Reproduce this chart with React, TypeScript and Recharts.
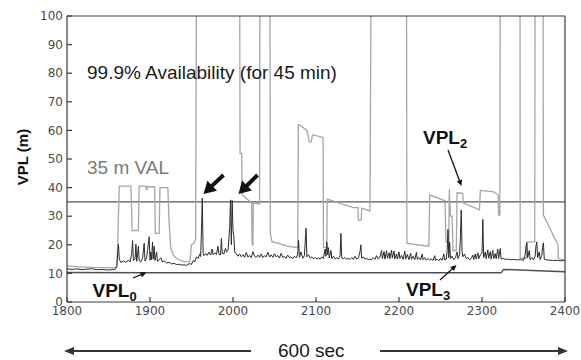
import { LineChart, Line, XAxis, YAxis, ReferenceLine } from 'recharts';

const xTicks = [1800, 1900, 2000, 2100, 2200, 2300, 2400];
const yTicks = [0, 10, 20, 30, 40, 50, 60, 70, 80, 90, 100];
const valLimit = 35;

// VPL0 (bottom bound)
const vpl0Time = [1800, 1900, 2000, 2100, 2200, 2323, 2326, 2360, 2400];
const vpl0Value = [10.3, 10.2, 10.2, 10.2, 10.2, 10.2, 11.4, 11.0, 10.6];

// VPL2 (grey, goes off the top of the plot)
const vpl2Time = [
  1800, 1815, 1830, 1845, 1860, 1861, 1863, 1877, 1878.5, 1886, 1887, 1895, 1896, 1897,
  1905.5, 1906.5, 1911, 1912, 1921.5, 1923, 1925, 1928, 1932, 1936, 1940, 1946, 1948, 1950,
  1953, 1955, 1956, 2008, 2008.5, 2010.5, 2011, 2022.5, 2023, 2024, 2024.5, 2032, 2032.5,
  2044.5, 2045, 2047, 2055, 2065, 2078, 2078.7, 2080, 2089, 2092, 2094, 2096, 2108.5, 2109,
  2113, 2113.5, 2145, 2150.5, 2151, 2154.5, 2155, 2165, 2166.5, 2209, 2209.5, 2236, 2237,
  2255.5, 2256.5, 2260, 2260.6, 2262, 2264, 2265, 2269, 2270, 2276.7, 2277.5, 2297, 2298,
  2314, 2319.6, 2320, 2321.5, 2322, 2345.8, 2346, 2353.5, 2354, 2363.5, 2364, 2373.5, 2374,
  2391.5, 2392, 2400,
];
const vpl2Value = [
  12.6, 12.3, 12.1, 12.0, 12.0, 20, 40.5, 40.5, 25, 25, 40.5, 40.5, 39, 40.3,
  40.3, 24, 24, 40, 40, 28, 19, 16.5, 15.2, 14.6, 14.2, 14.0, 14.2, 20,
  20.5, 22, 120, 120, 52, 52, 37.5, 34.6, 20, 20, 34.6, 34.3, 120,
  120, 24, 21, 20.5, 19.5, 19, 62, 62, 60, 56, 56, 58.5, 57.5, 19,
  19, 36, 33, 33, 28.6, 28.6, 32.8, 31.8, 120, 120, 20.5, 19.5, 37.4,
  35.4, 21, 21, 39.4, 30, 30, 18, 18, 38.2, 38, 34.6, 32.2, 39,
  38.5, 37.5, 30.4, 30.4, 120, 120, 15.3, 15.3, 21, 21, 120, 120, 30.4,
  19.9, 15.2, 14.6,
];

// VPL3 (dark, noisy)
const vpl3Time = [
  1800, 1806, 1812, 1818, 1824, 1830, 1836, 1842, 1848, 1854, 1858, 1860, 1862, 1863, 1865,
  1868, 1871, 1874, 1876, 1878, 1879, 1880, 1882, 1883, 1884, 1886, 1887, 1889, 1891, 1893,
  1894, 1896, 1897, 1899, 1900, 1901, 1902, 1903, 1904, 1905, 1906, 1908, 1909, 1911, 1913,
  1915, 1917, 1920, 1923, 1926, 1929, 1932, 1935, 1938, 1941, 1944, 1947, 1950, 1952, 1954,
  1956, 1958, 1960, 1961, 1962, 1963, 1964, 1965, 1967, 1969, 1971, 1973, 1975, 1976, 1978,
  1980, 1982, 1983, 1985, 1986, 1987, 1989, 1991, 1992, 1994, 1996, 1997, 1998, 1999, 2000,
  2001, 2002, 2004, 2006, 2008, 2010, 2012, 2014, 2016, 2018, 2020, 2022, 2024, 2026, 2028,
  2030, 2032, 2034, 2036, 2038, 2040, 2042, 2044, 2046, 2048, 2050, 2052, 2054, 2056, 2058,
  2060, 2062, 2064, 2066, 2068, 2070, 2072, 2074, 2076, 2078, 2079, 2080, 2082, 2084, 2086,
  2088, 2089, 2091, 2093, 2095, 2097, 2099, 2101, 2103, 2105, 2107, 2109, 2111, 2112, 2113,
  2114, 2115, 2116, 2118, 2119, 2121, 2123, 2125, 2127, 2129, 2130, 2131, 2133, 2135, 2137,
  2139, 2141, 2143, 2145, 2147, 2149, 2151, 2153, 2154, 2155, 2157, 2159, 2161, 2163, 2165,
  2167, 2169, 2171, 2173, 2175, 2177, 2179, 2180, 2182, 2183, 2185, 2186, 2188, 2189, 2191,
  2192, 2194, 2195, 2197, 2198, 2200, 2201, 2203, 2205, 2207, 2208, 2210, 2212, 2214, 2215,
  2217, 2219, 2221, 2222, 2224, 2226, 2228, 2229, 2231, 2233, 2235, 2237, 2239, 2241, 2243,
  2244, 2246, 2248, 2250, 2252, 2254, 2255, 2257, 2258, 2259, 2260, 2261, 2262, 2264, 2266,
  2268, 2270, 2271, 2273, 2274, 2275, 2276, 2277, 2279, 2281, 2283, 2285, 2287, 2289, 2290,
  2292, 2293, 2295, 2296, 2298, 2300, 2301, 2302, 2304, 2305, 2307, 2308, 2310, 2311, 2313,
  2314, 2316, 2317, 2319, 2320, 2322, 2323, 2325, 2328, 2331, 2334, 2338, 2342, 2346, 2350,
  2352, 2353, 2354, 2355, 2357, 2358, 2360, 2362, 2364, 2365, 2366, 2367, 2369, 2370, 2372,
  2373, 2374, 2375, 2378, 2382, 2386, 2390, 2394, 2398, 2400,
];
const vpl3Value = [
  11.6, 11.4, 11.6, 11.3, 11.5, 11.6, 11.3, 11.4, 11.2, 11.3, 11.4, 12.5, 20.2, 15, 13.8,
  14.3, 13.9, 14.6, 14.0, 17, 21.5, 14.5, 15, 20.2, 14.2, 19.5, 14.4, 14.0, 15.2, 20.5,
  14.3, 15.5, 18, 22.8, 14.6, 17.5, 14.8, 21, 15.0, 19.5, 14.5, 17.5, 14.2, 14.8, 15.5,
  14.0, 14.4, 13.6, 13.9, 13.3, 13.5, 13.1, 13.2, 12.9, 13.0, 12.8, 13.4, 13.2, 14.5, 14.1,
  15.8, 15.2, 16.8, 15.9, 25, 36.3, 17, 16.2, 17.0, 16.3, 17.4, 16.4, 18.5, 16.5, 17.2,
  16.6, 19.5, 16.8, 16.4, 22.2, 17, 16.8, 18.8, 17.5, 18.0, 25.8, 35.7, 20, 35.5, 25,
  23, 17.5, 16.8, 16.0, 16.8, 15.8, 16.5, 15.6, 17.3, 15.7, 16.3, 15.5, 17.6, 16.0, 15.6,
  16.4, 15.6, 16.8, 15.5, 16.2, 15.8, 17.4, 15.7, 16.5, 15.6, 16.9, 15.8, 16.3, 15.4, 17.0,
  15.6, 15.9, 15.3, 16.4, 15.5, 15.8, 15.2, 16.0, 15.4, 16.8, 21.6, 15.6, 17.5, 15.3, 16.2,
  25.8, 15.8, 16.5, 15.3, 15.8, 15.1, 15.6, 15.0, 15.4, 15.0, 15.8, 15.2, 18.5, 16.0, 21,
  16.5, 19.0, 15.4, 18, 15.2, 16.0, 15.1, 15.5, 15.0, 16.2, 24, 15.4, 15.1, 15.6, 15.0,
  15.2, 14.9, 15.5, 14.9, 16.0, 15.0, 15.4, 17.5, 20, 15.2, 15.8, 14.9, 15.3, 14.8, 15.0,
  14.8, 15.5, 14.9, 16.2, 15.0, 15.6, 18.0, 15.2, 17.6, 15.0, 17.9, 15.3, 17.2, 15.1, 18.1,
  15.4, 17.8, 15.1, 16.8, 15.0, 17.5, 15.2, 16.3, 14.9, 17.8, 15.0, 16.6, 14.8, 17.1, 14.9,
  16.0, 14.8, 17.4, 14.9, 15.6, 14.7, 16.8, 14.8, 15.5, 14.6, 15.2, 14.6, 15.1, 14.5, 16.2,
  14.6, 15.0, 14.4, 15.3, 14.6, 16.8, 14.7, 15.0, 18, 25.4, 15.5, 21, 15.2, 16.0, 14.8,
  15.5, 17.5, 15.2, 16.5, 22.8, 32.2, 17.5, 15.8, 16.8, 15.2, 15.5, 14.8, 15.2, 16.4, 14.9,
  16.8, 15.0, 17.2, 15.1, 16.5, 17, 28.9, 15.5, 17.5, 15.1, 18.2, 15.3, 17.6, 15.0, 18.0,
  15.2, 16.9, 15.1, 18.5, 15.2, 18.7, 15.0, 15.3, 14.9, 15.0, 14.8, 14.9, 14.7, 14.8, 14.6,
  16.5, 19.5, 20.7, 15.5, 18, 14.8, 15.5, 14.7, 16, 19.5, 21, 15.5, 17.5, 14.8, 16.2,
  19, 20.7, 15.0, 14.7, 14.6, 14.5, 14.6, 14.4, 14.5, 14.4,
];

const vpl0 = vpl0Time.map((t, i) => ({ t, v: vpl0Value[i] }));
const vpl2 = vpl2Time.map((t, i) => ({ t, v: vpl2Value[i] }));
const vpl3 = vpl3Time.map((t, i) => ({ t, v: vpl3Value[i] }));

const tickFont = { fontSize: 12, fill: '#4a4a4a', fontFamily: 'DejaVu Sans' };
const axisColor = '#3a3a3a';
const labelFont = 'Liberation Sans, Arial, sans-serif';

function Arrow({ x1, y1, x2, y2, width = 1, head = 8, spread = 3.5, color = '#111' }: {
  x1: number; y1: number; x2: number; y2: number; width?: number; head?: number; spread?: number; color?: string;
}) {
  const dx = x2 - x1;
  const dy = y2 - y1;
  const len = Math.hypot(dx, dy);
  const ux = dx / len;
  const uy = dy / len;
  const bx = x2 - ux * head;
  const by = y2 - uy * head;
  const px = -uy * spread;
  const py = ux * spread;
  return (
    <g>
      <line x1={x1} y1={y1} x2={bx + ux} y2={by + uy} stroke={color} strokeWidth={width} />
      <polygon points={`${x2},${y2} ${bx + px},${by + py} ${bx - px},${by - py}`} fill={color} />
    </g>
  );
}

function VplLabel({ x, y, sub }: { x: number; y: number; sub: string }) {
  return (
    <text x={x} y={y} fontFamily={labelFont} fontWeight="bold" fontSize={19} fill="#111">
      VPL
      <tspan fontSize={13} dy={4}>{sub}</tspan>
    </text>
  );
}

export default function App() {
  return (
    <div style={{ position: 'absolute', left: 0, top: 0, width: 581, height: 360, background: '#fff' }}>
      <LineChart width={581} height={360} margin={{ top: 10, right: 6, bottom: 28, left: 17 }}>
        <XAxis
          xAxisId="b"
          dataKey="t"
          type="number"
          domain={[1800, 2400]}
          ticks={xTicks}
          allowDataOverflow
          height={30}
          tickSize={-5}
          tickMargin={9}
          tick={tickFont}
          stroke={axisColor}
          strokeWidth={1.2}
        />
        <XAxis
          xAxisId="top"
          orientation="top"
          dataKey="t"
          type="number"
          domain={[1800, 2400]}
          ticks={xTicks}
          allowDataOverflow
          height={6}
          tickSize={-5}
          tick={false}
          stroke={axisColor}
          strokeWidth={1.2}
        />
        <YAxis
          yAxisId="l"
          type="number"
          domain={[0, 100]}
          ticks={yTicks}
          allowDataOverflow
          width={50}
          tickSize={-5}
          tickMargin={9}
          tick={tickFont}
          stroke={axisColor}
          strokeWidth={1.2}
        />
        <YAxis
          yAxisId="right"
          orientation="right"
          type="number"
          domain={[0, 100]}
          ticks={yTicks}
          allowDataOverflow
          width={10}
          tickSize={-5}
          tick={false}
          stroke={axisColor}
          strokeWidth={1.2}
        />
        <ReferenceLine xAxisId="b" yAxisId="l" y={valLimit} stroke="#555" strokeWidth={1.1} />
        <Line
          xAxisId="b"
          yAxisId="l"
          data={vpl2}
          dataKey="v"
          type="linear"
          stroke="#a6a6a6"
          strokeWidth={1.3}
          dot={false}
          isAnimationActive={false}
        />
        <Line
          xAxisId="b"
          yAxisId="l"
          data={vpl3}
          dataKey="v"
          type="linear"
          stroke="#2b2b2b"
          strokeWidth={1}
          dot={false}
          isAnimationActive={false}
        />
        <Line
          xAxisId="top"
          yAxisId="right"
          data={vpl0}
          dataKey="v"
          type="linear"
          stroke="#505050"
          strokeWidth={1.5}
          dot={false}
          isAnimationActive={false}
        />
      </LineChart>
      <svg
        width={581}
        height={360}
        style={{ position: 'absolute', left: 0, top: 0, pointerEvents: 'none' }}
      >
        <text
          transform="translate(27.5,157) rotate(-90)"
          textAnchor="middle"
          fontFamily={labelFont}
          fontWeight="bold"
          fontSize={15}
          fill="#111"
        >
          VPL (m)
        </text>
        <text x={87} y={79} fontFamily={labelFont} fontSize={19} fill="#1a1a1a">
          99.9% Availability (for 45 min)
        </text>
        <text x={87} y={174} fontFamily={labelFont} fontSize={19} fill="#7a7a7a">
          35 m VAL
        </text>
        <VplLabel x={92.5} y={296.5} sub="0" />
        <VplLabel x={406} y={296} sub="3" />
        <VplLabel x={423} y={144} sub="2" />
        <Arrow x1={133} y1={278} x2={146.5} y2={272.5} width={1.3} head={6} spread={2.8} />
        <Arrow x1={440} y1={280} x2={456.5} y2={265} width={1.3} head={6} spread={2.8} />
        <Arrow x1={448} y1={150} x2={461.5} y2={186} width={1.3} head={6} spread={2.8} />
        <Arrow x1={223.5} y1={175} x2={203.5} y2={194} width={4} head={12} spread={7} />
        <Arrow x1={257.5} y1={175} x2={238.5} y2={194} width={4} head={12} spread={7} />
        <Arrow x1={251} y1={351} x2={64} y2={351} width={2} head={10} spread={4} color="#333" />
        <Arrow x1={380} y1={351} x2={568} y2={351} width={2} head={10} spread={4} color="#333" />
        <text x={278} y={357} fontFamily={labelFont} fontSize={19} fill="#1a1a1a">
          600 sec
        </text>
      </svg>
    </div>
  );
}
